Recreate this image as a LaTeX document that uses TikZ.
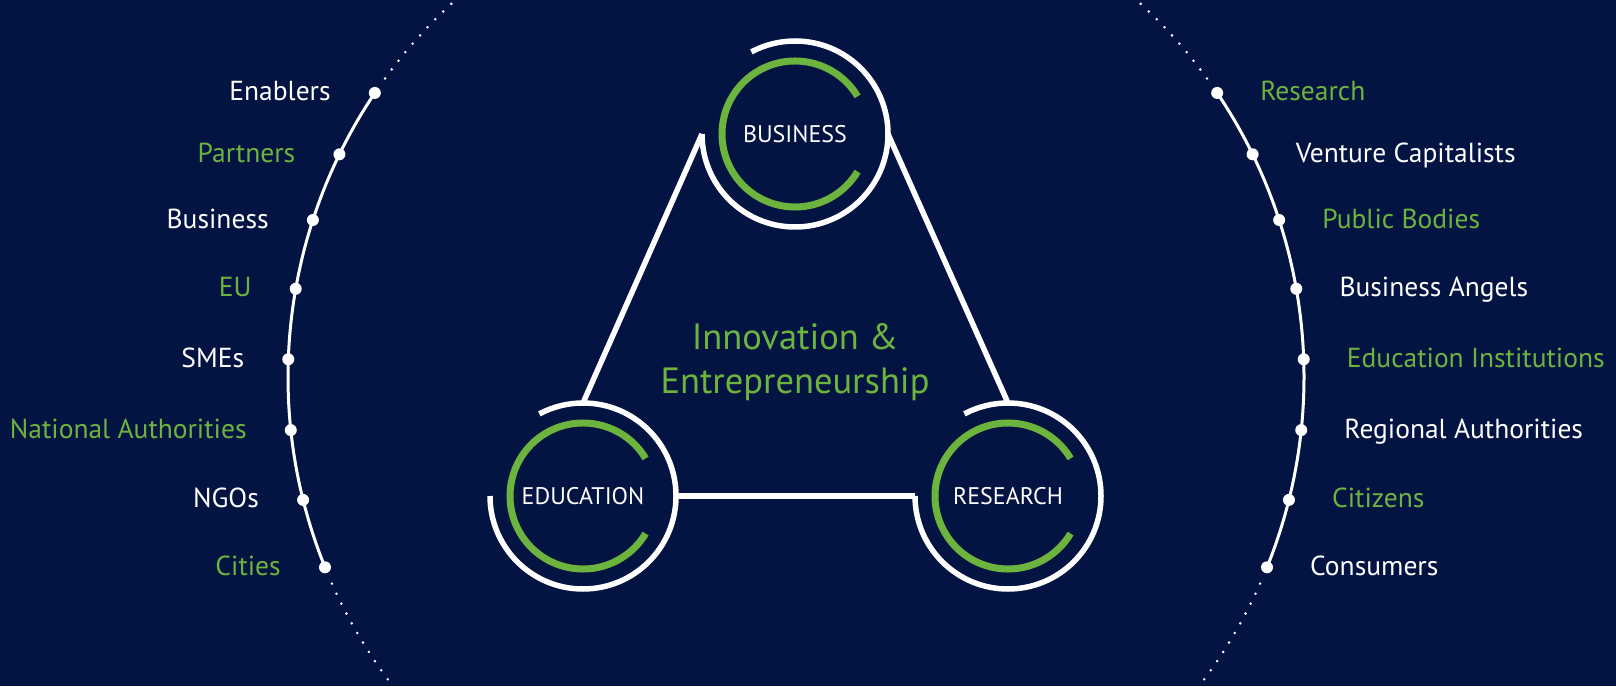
\documentclass[tikz,border=0pt]{standalone}
\usepackage{fontspec}
\setmainfont{PT Sans}
\usepackage{tikz}
\usetikzlibrary{calc}
\definecolor{navy}{RGB}{3,19,66}
\definecolor{leaf}{RGB}{109,180,63}

\begin{document}
\begin{tikzpicture}[x=1pt,y=1pt,
    hub/.style={circle,minimum size=186pt,inner sep=0pt,outer sep=0pt,text=white,font=\fontsize{24}{28}\selectfont},
    ring/.style={white,line width=5.5pt},
    inring/.style={leaf,line width=7pt},
    rim/.style={white,line width=3pt},
    rimdots/.style={white,line width=2.8pt,line cap=round,dash pattern=on 0pt off 11.1pt},
    pin/.style={circle,fill=white,inner sep=0pt,minimum size=12pt},
    lab/.style={inner sep=0pt,font=\fontsize{27.5}{32}\selectfont}]
    \fill[navy] (0,0) rectangle (1616,686);
    \clip (0,0) rectangle (1616,686);
    \node[hub] (bus) at (795,552) {BUSINESS};
    \node[hub] (edu) at (583,190) {EDUCATION};
    \node[hub] (res) at (1008,190) {RESEARCH};
    \foreach \h in {bus,edu,res}
    {
      \draw[ring] ([shift={(180:93)}]\h.center) arc[start angle=180,end angle=478,radius=93];
      \draw[inring] ([shift={(31:73)}]\h.center) arc[start angle=31,end angle=329,radius=73];
    }
    \draw[ring] (edu.north) -- (bus.west);
    \draw[ring] (bus.east) -- (res.north);
    \draw[ring] (edu.east) -- (res.west);
    \node[text=leaf,align=center,font=\fontsize{36.5}{44}\selectfont] (ie) at (795,324) {Innovation \&\\Entrepreneurship};
    \coordinate (o) at (796,309);
    \draw[rim] ([shift={(146:508)}]o) arc[start angle=146,end angle=202,radius=508];
    \draw[rim] ([shift={(-22:508)}]o) arc[start angle=-22,end angle=34,radius=508];
    \draw[rimdots] ([shift={(144:508)}]o) arc[start angle=144,end angle=120,radius=508];
    \draw[rimdots] ([shift={(204:508)}]o) arc[start angle=204,end angle=228,radius=508];
    \draw[rimdots] ([shift={(36:508)}]o) arc[start angle=36,end angle=60,radius=508];
    \draw[rimdots] ([shift={(-24:508)}]o) arc[start angle=-24,end angle=-48,radius=508];
    \foreach \lab/\col [count=\i] in {Enablers/white,Partners/leaf,Business/white,EU/leaf,SMEs/white,National Authorities/leaf,NGOs/white,Cities/leaf}
    {
      \node[pin] (lp\i) at ([shift={({146+8*(\i-1)}:508)}]o) {};
      \node[lab,text=\col,anchor=base east] (ll\i) at ([shift={(-44,-8)}]lp\i) {\lab};
    }
    \foreach \lab/\col [count=\i] in {Research/leaf,Venture Capitalists/white,Public Bodies/leaf,Business Angels/white,Education Institutions/leaf,Regional Authorities/white,Citizens/leaf,Consumers/white}
    {
      \node[pin] (rp\i) at ([shift={({34-8*(\i-1)}:508)}]o) {};
      \node[lab,text=\col,anchor=base west] (rl\i) at ([shift={(43,-8)}]rp\i) {\lab};
    }
  \end{tikzpicture}
\end{document}
